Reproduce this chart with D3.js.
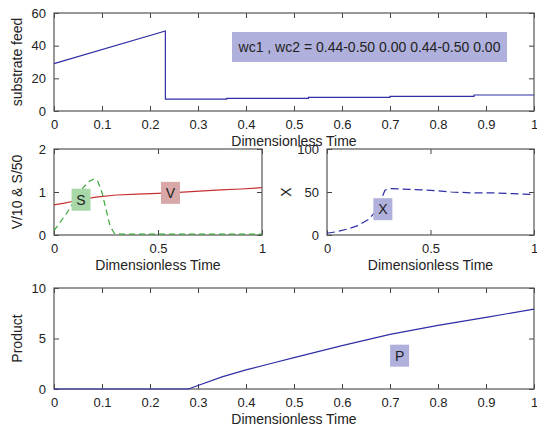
<!DOCTYPE html>
<html>
<head>
<meta charset="utf-8">
<script src="https://cdn.jsdelivr.net/npm/d3@7"></script>
<style>
  body { margin: 0; background: #fff; }
  svg { display: block; font-family: "Liberation Sans", Arial, sans-serif; }
  .tick text { font-size: 13px; fill: #222; }
  .lbl { font-size: 14px; fill: #222; }
</style>
</head>
<body>
<svg id="chart" width="537" height="430"></svg>
<script>
// substrate feed (top panel)
const feedT = [0, 0.232, 0.232, 0.36, 0.36, 0.53, 0.53, 0.70, 0.70, 0.875, 0.875, 1];
const feedV = [29, 49, 7.3, 7.3, 7.7, 7.7, 8.4, 8.4, 9.0, 9.0, 9.8, 9.8];

// V/10 and S/50 (middle left)
const vT = [0, 0.05, 0.1, 0.2, 0.3, 0.4, 0.5, 0.6, 0.7, 0.8, 0.9, 1];
const vV = [0.7, 0.74, 0.79, 0.88, 0.93, 0.95, 0.97, 0.99, 1.02, 1.05, 1.07, 1.1];
const sT = [0, 0.03, 0.06, 0.1, 0.14, 0.17, 0.19, 0.21, 0.23, 0.25, 0.27, 0.29, 0.32, 0.5, 1];
const sV = [0.1, 0.3, 0.5, 0.8, 1.1, 1.25, 1.3, 1.25, 1.0, 0.6, 0.2, 0.04, 0.02, 0.02, 0.02];

// X (middle right)
const xT = [0, 0.05, 0.1, 0.15, 0.2, 0.23, 0.26, 0.28, 0.3, 0.4, 0.5, 0.6, 0.7, 0.8, 0.9, 1];
const xV = [2, 4, 7, 11, 18, 26, 40, 52, 54, 53, 52, 50, 49, 49, 48, 47];

// Product (bottom)
const pT = [0, 0.1, 0.2, 0.28, 0.3, 0.35, 0.4, 0.45, 0.5, 0.55, 0.6, 0.7, 0.8, 0.9, 1];
const pV = [0, 0, 0, 0, 0.35, 1.2, 1.9, 2.5, 3.1, 3.7, 4.3, 5.4, 6.3, 7.1, 7.9];

const tenthTicks = [0, 0.1, 0.2, 0.3, 0.4, 0.5, 0.6, 0.7, 0.8, 0.9, 1];
const halfTicks = [0, 0.5, 1];

const svg = d3.select('#chart');

function fmt(d) {
    return d3.format('~g')(d);
}

function panel(opts) {
    const x = d3.scaleLinear().domain([0, 1]).range([opts.left, opts.right]);
    const y = d3.scaleLinear().domain(opts.yDomain).range([opts.bottom, opts.top]);
    const g = svg.append('g');

    const tl = 5;
    // ticks point inwards on all four sides, labels only bottom/left
    g.append('g')
        .attr('transform', `translate(0,${opts.bottom})`)
        .call(d3.axisBottom(x).tickValues(opts.xTicks).tickFormat(fmt).tickSizeInner(-tl).tickSizeOuter(0).tickPadding(tl + 4))
        .call(a => a.select('.domain').remove());
    g.append('g')
        .attr('transform', `translate(0,${opts.top})`)
        .call(d3.axisTop(x).tickValues(opts.xTicks).tickFormat('').tickSizeInner(-tl).tickSizeOuter(0))
        .call(a => a.select('.domain').remove());
    g.append('g')
        .attr('transform', `translate(${opts.left},0)`)
        .call(d3.axisLeft(y).tickValues(opts.yTicks).tickFormat(fmt).tickSizeInner(-tl).tickSizeOuter(0).tickPadding(tl + 3))
        .call(a => a.select('.domain').remove());
    g.append('g')
        .attr('transform', `translate(${opts.right},0)`)
        .call(d3.axisRight(y).tickValues(opts.yTicks).tickFormat('').tickSizeInner(-tl).tickSizeOuter(0))
        .call(a => a.select('.domain').remove());
    g.selectAll('.tick line').attr('stroke', '#444');

    g.append('rect')
        .attr('x', opts.left).attr('y', opts.top)
        .attr('width', opts.right - opts.left).attr('height', opts.bottom - opts.top)
        .attr('fill', 'none').attr('stroke', '#555').attr('stroke-width', 1.2);

    g.append('text').attr('class', 'lbl')
        .attr('x', (opts.left + opts.right) / 2).attr('y', opts.bottom + 35)
        .attr('text-anchor', 'middle').text('Dimensionless Time');

    g.append('text').attr('class', 'lbl')
        .attr('transform', `translate(${opts.yLabelX},${(opts.top + opts.bottom) / 2}) rotate(-90)`)
        .attr('text-anchor', 'middle').text(opts.yLabel);

    return {g, x, y};
}

function drawLine(p, ts, vs, color, dash) {
    const data = ts.map((t, i) => ({t, v: vs[i]}));
    p.g.append('path')
        .datum(data)
        .attr('fill', 'none')
        .attr('stroke', color)
        .attr('stroke-width', 1.2)
        .attr('stroke-dasharray', dash || null)
        .attr('d', d3.line().x(d => p.x(d.t)).y(d => p.y(d.v)));
}

function tag(p, t, v, text, fill, w, h) {
    const cx = p.x(t), cy = p.y(v);
    p.g.append('rect')
        .attr('x', cx - w / 2).attr('y', cy - h / 2)
        .attr('width', w).attr('height', h)
        .attr('fill', fill);
    p.g.append('text').attr('class', 'lbl')
        .attr('x', cx).attr('y', cy + 5)
        .attr('text-anchor', 'middle').text(text);
}

// top panel
const p1 = panel({left: 54, right: 534, top: 13, bottom: 111, yDomain: [0, 60],
    xTicks: tenthTicks, yTicks: [0, 20, 40, 60], yLabel: 'substrate feed', yLabelX: 22});
drawLine(p1, feedT, feedV, '#2e2ea6');
p1.g.append('rect').attr('x', 232).attr('y', 32).attr('width', 275).attr('height', 30).attr('fill', '#b0b0dc');
p1.g.append('text').attr('class', 'lbl').attr('x', 369.5).attr('y', 52)
    .attr('text-anchor', 'middle').text('wc1 , wc2 = 0.44-0.50 0.00 0.44-0.50 0.00');

// middle left
const p2 = panel({left: 54, right: 262, top: 149, bottom: 235, yDomain: [0, 2],
    xTicks: halfTicks, yTicks: [0, 1, 2], yLabel: 'V/10 & S/50', yLabelX: 22});
drawLine(p2, vT, vV, '#c83030');
drawLine(p2, sT, sV, '#3aa83a', '6,4');
tag(p2, 0.13, 0.82, 'S', '#a8d8a8', 19, 22);
tag(p2, 0.56, 0.98, 'V', '#d8a8a8', 19, 22);

// middle right
const p3 = panel({left: 327, right: 534, top: 149, bottom: 235, yDomain: [0, 100],
    xTicks: halfTicks, yTicks: [0, 50, 100], yLabel: 'X', yLabelX: 291});
drawLine(p3, xT, xV, '#2e2ea6', '8,4');
tag(p3, 0.27, 30, 'X', '#b0b0dc', 19, 22);

// bottom
const p4 = panel({left: 54, right: 534, top: 288, bottom: 389, yDomain: [0, 10],
    xTicks: tenthTicks, yTicks: [0, 5, 10], yLabel: 'Product', yLabelX: 22});
drawLine(p4, pT, pV, '#2e2ea6');
tag(p4, 0.72, 3.3, 'P', '#b0b0dc', 19, 22);
</script>
</body>
</html>
